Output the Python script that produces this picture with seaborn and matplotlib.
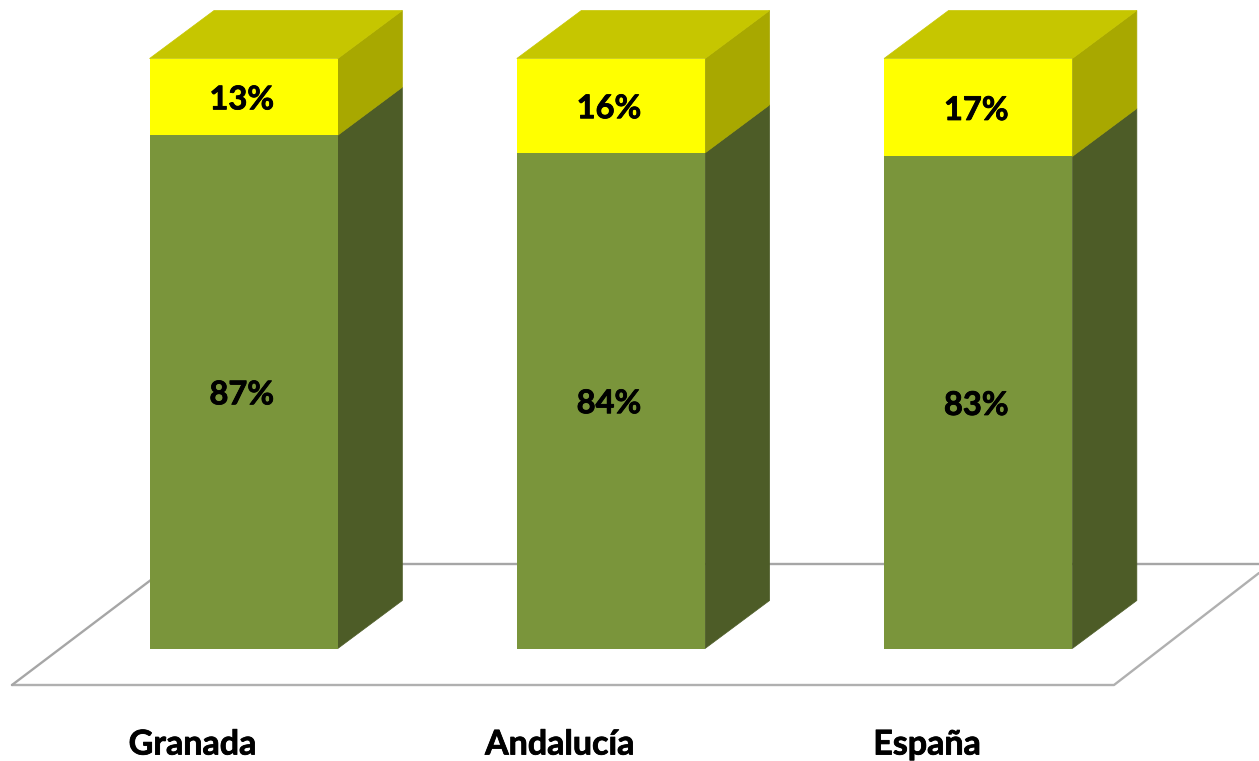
#!/usr/bin/env python3
import pandas as pd
import seaborn as sns
from matplotlib import pyplot as plt
from matplotlib import patheffects as pe
from matplotlib.patches import Polygon

regions = ['Granada', 'Andalucía', 'España']
green_pct = [87.0, 84.0, 83.4]
yellow_pct = [13.0, 16.0, 16.6]

W, H = 1259, 761
# image pixels of the bar frame: category 0 centre, category spacing, y of 0 and 100
X0, STEP = 243.7, 367.25
Y_ZERO, Y_FULL = 648.5, 58.5
PX_PER_PCT = (Y_ZERO - Y_FULL) / 100
DEPTH_X, DEPTH_Y = 64.5 / STEP, 48 / PX_PER_PCT
BAR_W = 188.3 / STEP


def px(x, y):
    return (x - X0) / STEP, (Y_ZERO - y) / PX_PER_PCT


def face(pts, color, z):
    ax.add_patch(Polygon(pts, closed=True, facecolor=color, edgecolor=color,
                         lw=.5, zorder=z))


def label(x, y, txt, size):
    t = ax.text(x, y, txt, ha='center', va='center', fontsize=size,
                fontweight='bold', color='black', zorder=6)
    # source text is a little heavier than Lato Bold
    t.set_path_effects([pe.withStroke(linewidth=.6, foreground='black')])


if __name__ == '__main__':
    sns.set_theme(style='white')
    plt.rcParams['font.family'] = ['Lato', 'DejaVu Sans']

    df = pd.DataFrame({'region': regions, 'green': green_pct, 'yellow': yellow_pct})
    df['total'] = df['green'] + df['yellow']

    f = plt.figure(figsize=(W / 100, H / 100), dpi=100)
    ax = f.add_axes([0, 0, 1, 1])

    # floor
    ax.plot(*zip(px(12, 685), px(1114, 685), px(1259, 573)),
            color='#b0b0b0', lw=1.7, zorder=1)
    ax.plot(*zip(px(12, 685), px(172, 564), px(1259, 564)),
            color='#a6a6a6', lw=1.7, zorder=1)

    sns.barplot(data=df, x='region', y='total', color='#ffff00', width=BAR_W,
                saturation=1, ax=ax, zorder=4, linewidth=0)
    n_yellow = len(ax.patches)
    sns.barplot(data=df, x='region', y='green', color='#7a953b', width=BAR_W,
                saturation=1, ax=ax, zorder=5, linewidth=0)

    bars_top = ax.patches[:n_yellow]
    bars_low = ax.patches[n_yellow:]

    for i, (top, low) in enumerate(zip(bars_top, bars_low)):
        x0, x1 = top.get_x(), top.get_x() + top.get_width()
        split, full = low.get_height(), top.get_height()

        # side and top faces follow the bar sizes
        face([(x1, 0), (x1 + DEPTH_X, DEPTH_Y), (x1 + DEPTH_X, split + DEPTH_Y), (x1, split)],
             '#4d5c27', 3)
        face([(x1, split), (x1 + DEPTH_X, split + DEPTH_Y), (x1 + DEPTH_X, full + DEPTH_Y), (x1, full)],
             '#a8a800', 3)
        face([(x0, full), (x0 + DEPTH_X, full + DEPTH_Y), (x1 + DEPTH_X, full + DEPTH_Y), (x1, full)],
             '#c6c600', 3)

        cx = (x0 + x1) / 2
        label(cx - 2 / STEP, split / 2 - 3 / PX_PER_PCT, f'{green_pct[i]:.0f}%', 23.5)
        label(cx - 2 / STEP, split + yellow_pct[i] / 2 - 3 / PX_PER_PCT, f'{yellow_pct[i]:.0f}%', 23.5)
        label(cx - 51 / STEP, px(0, 744.5)[1], regions[i], 24.5)

    ax.set_xlim(px(0, 0)[0], px(W, 0)[0])
    ax.set_ylim(px(0, H)[1], px(0, 0)[1])
    ax.set_xlabel('')
    ax.set_ylabel('')
    ax.set_xticks([])
    ax.set_yticks([])
    sns.despine(ax=ax, left=True, bottom=True)

    f.savefig('out.png', dpi=100)
